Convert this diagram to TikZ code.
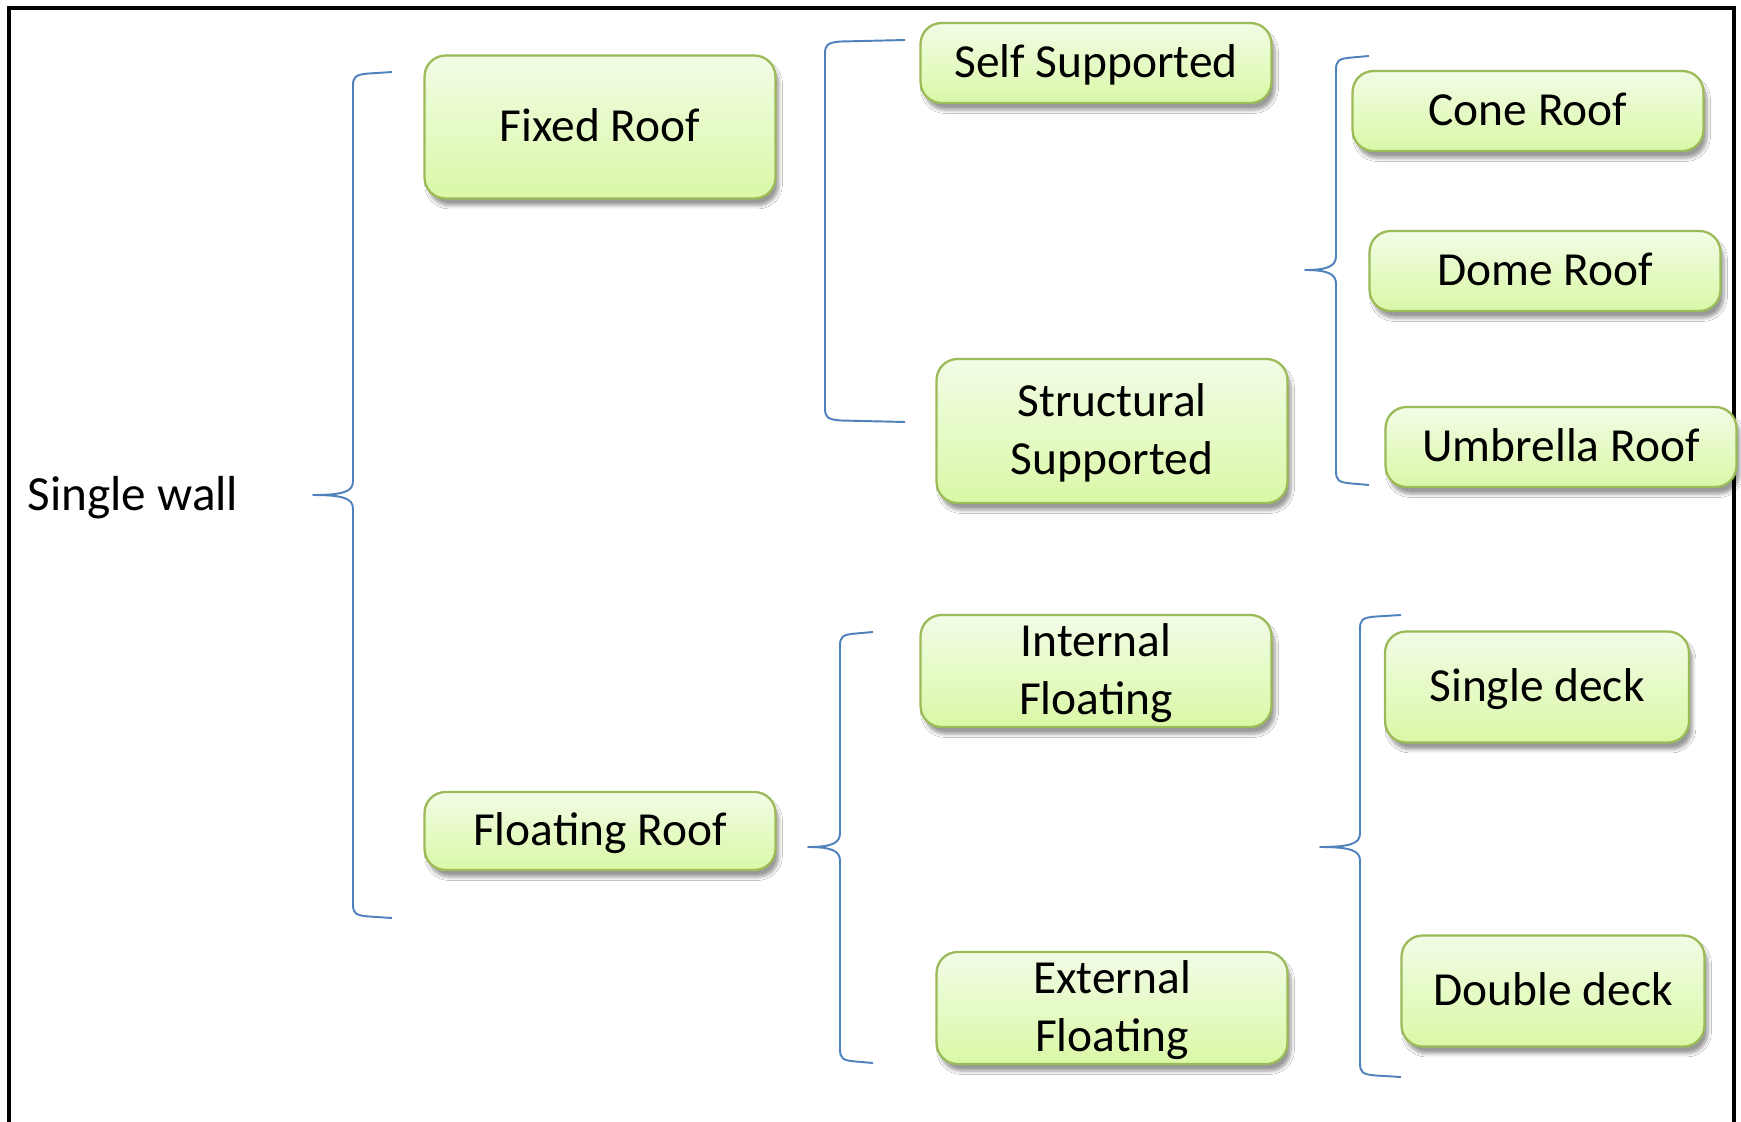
\documentclass[tikz,border=0pt]{standalone}
\usepackage{fontspec}
\setmainfont{Carlito}
\usetikzlibrary{shadows,shadows.blur,calc}
\definecolor{boxborder}{RGB}{155,187,89}
\definecolor{boxtop}{RGB}{242,252,230}
\definecolor{boxbot}{RGB}{218,248,166}
\definecolor{bracecol}{RGB}{79,129,189}
% #1 xv, #2 ytop, #3 ybot, #4 xend, #5 xtip, #6 ytip
\newcommand\mybrace[6]{%
  \draw[bracestyle] (#4,#2) -- (#1+16,#2+1.5) .. controls (#1+2,#2+2.5) and (#1,#2+5) .. (#1,#2+14)
    -- (#1,#6-14) .. controls (#1,#6-4) and (#1-8,#6) .. (#5,#6)
    .. controls (#1-8,#6) and (#1,#6+4) .. (#1,#6+14)
    -- (#1,#3-14) .. controls (#1,#3-5) and (#1+2,#3-2.5) .. (#1+16,#3-1.5) -- (#4,#3);}
\newcommand\mybracket[4]{%
  \draw[bracestyle] (#4,#2) -- (#1+16,#2+1.5) .. controls (#1+2,#2+2.5) and (#1,#2+5) .. (#1,#2+14)
    -- (#1,#3-14) .. controls (#1,#3-5) and (#1+2,#3-2.5) .. (#1+16,#3-1.5) -- (#4,#3);}
\begin{document}
\begin{tikzpicture}[x=0.02cm,y=-0.02cm,
  box/.style={draw=boxborder, line width=1.3pt, rounded corners=0.42cm,
    top color=boxtop, bottom color=boxbot, minimum width=7.02cm, inner sep=0pt,
    align=center, font=\fontsize{27}{33}\selectfont,
    text height=17pt, text depth=0pt,
    blur shadow={shadow xshift=2pt, shadow yshift=-4pt, shadow blur steps=6, shadow opacity=40}},
  twoline/.style={text height=50pt, text depth=0pt},
  bracestyle/.style={draw=bracecol, line width=1.1pt, line join=round}]
\useasboundingbox (0,0) rectangle (1741,1122);
\fill[white] (0,0) rectangle (1741,1122);
\draw[line width=2pt] (9,1130) -- (9,8) -- (1734,8) -- (1734,1130);

\node[font=\fontsize{28}{33}\selectfont, text height=17.7pt, text depth=0pt, inner sep=0pt] (sw) at (133,495) {Single wall};

\node[box, minimum height=2.86cm] (fixed) at (600,127) {Fixed Roof};
\node[box, minimum height=1.56cm] (floating) at (600,831) {Floating Roof};
\node[box, minimum height=1.6cm] (self) at (1096,63) {Self Supported};
\node[box, twoline, minimum height=2.88cm] (struct) at (1112,431) {Structural\\Supported};
\node[box, minimum height=1.6cm] (cone) at (1528,111) {Cone Roof};
\node[box, minimum height=1.6cm] (dome) at (1545,271) {Dome Roof};
\node[box, minimum height=1.6cm] (umb) at (1561,447) {Umbrella Roof};
\node[box, twoline, minimum height=2.24cm] (internal) at (1096,671) {Internal\\Floating};
\node[box, twoline, minimum height=2.24cm] (external) at (1112,1008) {External\\Floating};
\node[box, minimum width=6.08cm, minimum height=2.22cm] (sdeck) at (1537,687) {Single deck};
\node[box, minimum width=6.06cm, minimum height=2.22cm] (ddeck) at (1553,991) {Double deck};

\mybrace{353}{72}{918}{392}{313}{495}
\mybracket{825}{40}{422}{905}
\mybrace{1336}{56}{485}{1369}{1305}{270}
\mybrace{840}{632}{1063}{873}{808}{847}
\mybrace{1360}{615}{1077}{1401}{1320}{847}
\end{tikzpicture}
\end{document}
